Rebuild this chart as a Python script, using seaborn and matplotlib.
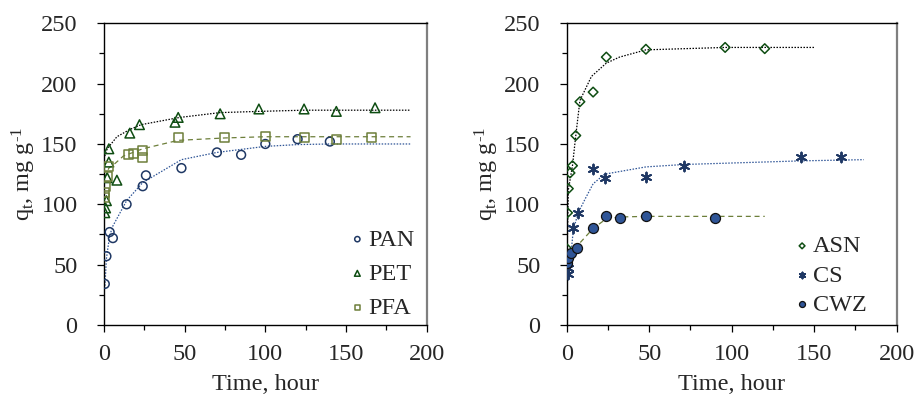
import numpy as np
import pandas as pd
import matplotlib
matplotlib.use("Agg")
import matplotlib.pyplot as plt
import seaborn as sns

# =========================================================
# DATA
# =========================================================

# left panel - measured points
pan_t = [0.5, 1.5, 3.5, 5.5, 14, 24, 26, 48, 70, 85, 100, 120, 140]
pan_q = [34, 57, 77, 72, 100, 115, 124, 130, 143, 141, 150, 154, 152]
pet_t = [0.5, 1, 1.5, 2, 3, 3, 8, 16, 22, 44, 46, 72, 96, 124, 144, 168]
pet_q = [93, 97, 103, 122, 135, 146, 120, 159, 166, 168, 172, 175, 179, 179, 177, 180]
pfa_t = [0.25, 0.5, 1, 2, 3, 15, 18, 24, 24, 46, 75, 100, 124, 144, 166]
pfa_q = [106, 110, 115, 123, 131, 141, 142, 139, 145, 155, 155, 156, 155, 154, 155]

# left panel - model curves
pan_fit_t = [0.5, 1.5, 3.5, 5.5, 14, 24, 48, 70, 100, 120, 140, 190]
pan_fit_q = [30, 55, 74, 82, 103, 118, 137, 143, 148, 149.5, 150, 150]
pet_fit_t = [0.5, 2, 8, 16, 23, 47, 72, 96, 124, 190]
pet_fit_q = [140, 146, 156, 162, 166, 172, 176, 177, 178, 178]
pfa_fit_t = [0.5, 3, 7, 12, 24, 46, 75, 100, 190]
pfa_fit_q = [122, 130, 134, 140, 146, 153, 155, 156, 156]

# right panel - measured points
asn_t = [0.25, 0.5, 1, 2, 3.5, 5.5, 8, 16, 24, 48, 96, 120]
asn_q = [63, 93, 113, 126, 132, 157, 185, 193, 222, 228.5, 230, 229]
cs_t = [0.5, 1, 4, 7, 16, 23, 48, 71, 142, 166]
cs_q = [42, 47, 80, 93, 129, 122, 123, 132, 139, 139]
cwz_t = [0.25, 1, 2.5, 6, 16, 24, 32, 48, 90]
cwz_q = [51, 55.5, 59.5, 64, 80, 90.5, 89, 90, 89]

# right panel - model curves
asn_fit_t = [0.25, 1, 3.5, 5.5, 8, 15, 24, 32, 48, 96, 150]
asn_fit_q = [60, 112, 132, 157, 186, 206, 217, 222, 228, 230, 230]
cs_fit_t = [0.5, 2, 4, 7, 11, 16, 23, 48, 71, 142, 180]
cs_fit_q = [40, 50, 79, 93, 104, 117, 125, 131, 133, 136, 137]
cwz_fit_t = [0.25, 1, 3, 6, 16, 24, 32, 48, 90, 120]
cwz_fit_q = [50, 55, 59, 65, 80, 88, 89.5, 90, 90, 90]

X_TICKS = [0, 50, 100, 150, 200]
Y_TICKS = [0, 50, 100, 150, 200, 250]

# =========================================================
# STYLE
# =========================================================

NAVY = "#1f3864"
BLUE = "#2f5597"
DGREEN = "#0e4d12"
OLIVE = "#6d7f3a"
FS = 17.5

sns.set_style("ticks")
plt.rcParams["font.family"] = ["Liberation Serif", "DejaVu Serif"]
plt.rcParams["mathtext.fontset"] = "custom"
plt.rcParams["mathtext.rm"] = "Liberation Serif"
plt.rcParams["mathtext.it"] = "Liberation Serif:italic"

DOT = (0, (1.2, 1.2))
DASH = (0, (4, 3))

fig = plt.figure(figsize=(9.17, 3.97), dpi=100)
ax1 = fig.add_axes([0.1134, 0.1814, 0.3519, 0.7599])
ax2 = fig.add_axes([0.6180, 0.1814, 0.3599, 0.7599])


def curve(ax, t, q, color, ls):
    sns.lineplot(x=t, y=q, ax=ax, color=color, linestyle=ls, lw=0.9,
                 sort=False, estimator=None, legend=False)


def points(ax, t, q, label, marker, s, face, edge, lw=1.1):
    sns.scatterplot(x=t, y=q, ax=ax, marker=marker, s=s, facecolor=face,
                    edgecolor=edge, linewidth=lw, label=label, zorder=3)


# ---- left panel
curve(ax1, pan_fit_t, pan_fit_q, BLUE, DOT)
curve(ax1, pet_fit_t, pet_fit_q, "black", DOT)
curve(ax1, pfa_fit_t, pfa_fit_q, OLIVE, DASH)
points(ax1, pan_t, pan_q, "PAN", "o", 40, "none", NAVY)
points(ax1, pet_t, pet_q, "PET", "^", 48, "none", DGREEN)
points(ax1, pfa_t, pfa_q, "PFA", "s", 42, "none", OLIVE)

# ---- right panel
curve(ax2, asn_fit_t, asn_fit_q, "black", DOT)
curve(ax2, cs_fit_t, cs_fit_q, BLUE, DOT)
curve(ax2, cwz_fit_t, cwz_fit_q, OLIVE, DASH)
points(ax2, asn_t, asn_q, "ASN", "D", 24, "none", DGREEN)
points(ax2, cs_t, cs_q, "CS", (6, 2, 0), 50, NAVY, NAVY, lw=1.4)
points(ax2, cwz_t, cwz_q, "CWZ", "o", 52, BLUE, "#111111", lw=0.9)

for ax in (ax1, ax2):
    ax.set_xlim(0, 200)
    ax.set_ylim(0, 250)
    ax.set_xticks(X_TICKS)
    ax.set_yticks(Y_TICKS)
    ax.set_xticks(np.arange(25, 200, 50), minor=True)
    ax.set_yticks(np.arange(25, 250, 50), minor=True)
    ax.tick_params(axis="both", which="major", direction="out", length=5,
                   width=0.9, labelsize=FS, color="black")
    ax.tick_params(axis="x", which="major", pad=9)
    ax.tick_params(axis="y", which="major", pad=14)
    ax.tick_params(axis="both", which="minor", direction="out", length=3.5,
                   width=0.9, color="black")
    for side in ("left", "bottom", "top"):
        ax.spines[side].set_visible(True)
        ax.spines[side].set_color("black")
        ax.spines[side].set_linewidth(1.0)
    ax.spines["right"].set_visible(True)
    ax.spines["right"].set_color("#7f7f7f")
    ax.spines["right"].set_linewidth(1.6)
    ax.set_xlabel("Time, hour", fontsize=FS, labelpad=6.5)
    ax.set_ylabel("q$_\\mathregular{t}$, mg g$^\\mathregular{\u2010 1}$", fontsize=FS, labelpad=2)

ax1.legend(loc="lower right", bbox_to_anchor=(1.0, -0.02), frameon=False, fontsize=FS,
           markerscale=0.6, handlelength=0.5, handletextpad=0.2,
           labelspacing=0.5, borderaxespad=0.1)
ax2.legend(loc="lower right", bbox_to_anchor=(0.946, -0.01), frameon=False, fontsize=FS,
           markerscale=0.6, handlelength=0.5, handletextpad=0.2,
           labelspacing=0.3, borderaxespad=0.1)

plt.savefig("out.png", dpi=100)
